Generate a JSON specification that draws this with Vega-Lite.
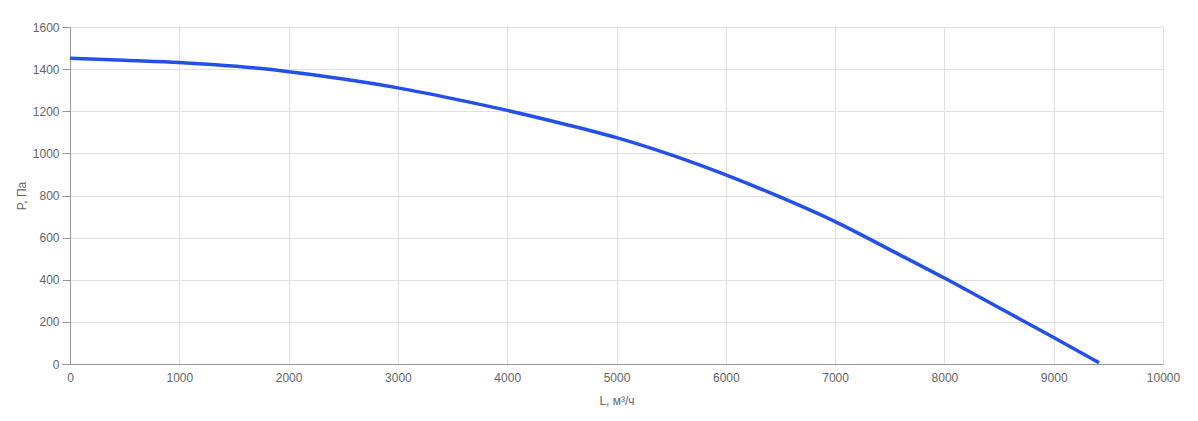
{
  "$schema": "https://vega.github.io/schema/vega-lite/v6.json",
  "autosize": "none",
  "width": 1093,
  "height": 337,
  "padding": {"left": 70, "top": 27, "right": 35, "bottom": 57},
  "background": "white",
  "config": {
    "view": {"stroke": null},
    "font": "Liberation Sans",
    "axis": {
      "labelFont": "Liberation Sans",
      "titleFont": "Liberation Sans",
      "labelFontSize": 12,
      "titleFontSize": 12,
      "labelColor": "#666666",
      "titleColor": "#666666",
      "titleFontWeight": "normal",
      "gridColor": "#e0e0e0",
      "gridWidth": 1,
      "domainColor": "#999999",
      "tickColor": "#999999"
    }
  },
  "data": {
    "values": [
      {"L": 0, "P": 1452},
      {"L": 500, "P": 1442},
      {"L": 1000, "P": 1432},
      {"L": 1300, "P": 1422},
      {"L": 1700, "P": 1405},
      {"L": 2000, "P": 1388},
      {"L": 2500, "P": 1353},
      {"L": 3000, "P": 1311},
      {"L": 3500, "P": 1260},
      {"L": 4000, "P": 1204},
      {"L": 4500, "P": 1142},
      {"L": 5000, "P": 1075},
      {"L": 5500, "P": 993},
      {"L": 6000, "P": 898},
      {"L": 6500, "P": 792},
      {"L": 7000, "P": 676},
      {"L": 7500, "P": 543},
      {"L": 8000, "P": 408},
      {"L": 8500, "P": 267},
      {"L": 9000, "P": 126},
      {"L": 9415, "P": 6}
    ]
  },
  "mark": {"type": "line", "color": "#2550e8", "strokeWidth": 3.5, "interpolate": "monotone"},
  "encoding": {
    "x": {
      "field": "L",
      "type": "quantitative",
      "title": "L, м³/ч",
      "scale": {"domain": [0, 10000], "nice": false},
      "axis": {"values": [0,1000,2000,3000,4000,5000,6000,7000,8000,9000,10000], "format": "d", "tickSize": 0, "labelPadding": 8, "titlePadding": 12, "labelFlush": false}
    },
    "y": {
      "field": "P",
      "type": "quantitative",
      "title": "P, Па",
      "scale": {"domain": [0, 1600], "nice": false},
      "axis": {"values": [0,200,400,600,800,1000,1200,1400,1600], "format": "d", "tickSize": 8, "labelPadding": 3, "titlePadding": 4, "labelFlush": false}
    }
  }
}
